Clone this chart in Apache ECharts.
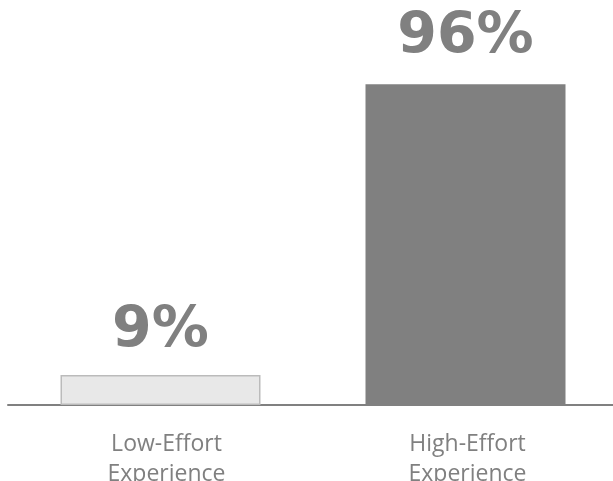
<!DOCTYPE html>
<html>
<head>
<meta charset="utf-8">
<script src="https://cdn.jsdelivr.net/npm/echarts@6/dist/echarts.min.js"></script>
<style>
html,body{margin:0;padding:0;background:#fff;}
#chart{width:613px;height:481px;}
</style>
</head>
<body>
<div id="chart"></div>
<script>
var categories = ['Low-Effort\nExperience', 'High-Effort\nExperience'];
var values = [9, 96];
var valueLabels = ['9%', '96%'];
var barColors = ['#e8e8e8', '#808080'];
var barBorders = ['#bbbbbb', '#808080'];

var chart = echarts.init(document.getElementById('chart'), null, {renderer: 'canvas'});
var labelShift = [12, 4];
var labelDistance = [14, 18];
var option = {
  animation: false,
  grid: {left: 8, right: -5, top: 71, bottom: 76, containLabel: false, outerBoundsMode: 'none'},
  xAxis: {
    type: 'category',
    data: categories.map(function (c, i) {
      return {value: c, textStyle: {padding: [0, 0, 0, labelShift[i]]}};
    }),
    axisLine: {show: true, lineStyle: {color: '#808080', width: 2}},
    axisTick: {show: false},
    axisLabel: {
      color: '#808080',
      fontFamily: 'Open Sans',
      fontSize: 23,
      lineHeight: 30,
      margin: 24
    }
  },
  yAxis: {
    type: 'value', min: 0, max: 100,
    show: false,
    splitLine: {show: false}
  },
  series: [{
    type: 'bar',
    barWidth: 200,
    data: values.map(function (v, i) {
      return {
        value: v,
        itemStyle: {color: barColors[i], borderColor: barBorders[i], borderWidth: i === 0 ? 1.5 : 0},
        label: {distance: labelDistance[i]}
      };
    }),
    label: {
      show: true,
      position: 'top',
      formatter: function (p) { return valueLabels[p.dataIndex]; },
      color: '#808080',
      fontFamily: 'DejaVu Sans',
      fontWeight: 'bold',
      fontSize: 57
    }
  }]
};
chart.setOption(option);
</script>
</body>
</html>
